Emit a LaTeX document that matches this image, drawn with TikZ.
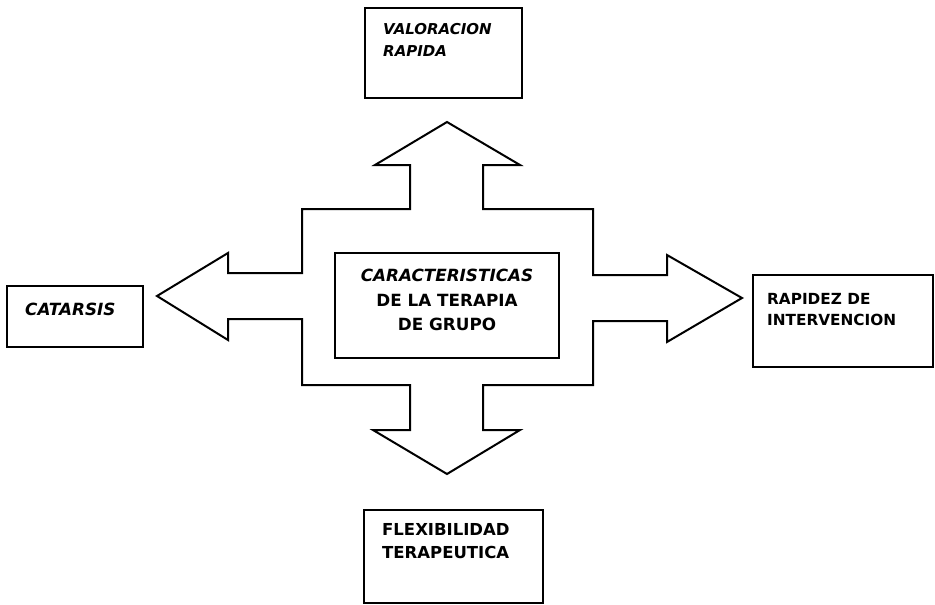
\documentclass[tikz,border=0pt]{standalone}
\usepackage{fontspec}
\setmainfont{DejaVu Sans}
\usepackage{tikz}
\usetikzlibrary{positioning}

\begin{document}
\begin{tikzpicture}[
        x=1pt, y=-1pt,
        caja/.style={draw=black, line width=2.8pt, inner sep=0pt},
        cruz/.style={draw=black, line width=2pt, line join=miter},
        txt/.style={align=left, inner sep=0pt, font=\bfseries\fontsize{16}{22}\selectfont},
        txtc/.style={align=center, inner sep=0pt, font=\bfseries\fontsize{16.8}{24.5}\selectfont}
    ]
        \useasboundingbox (0,0) rectangle (935,605);
        \draw[cruz] (302,209) -- (410,209) -- (410,165) -- (375,165) -- (447,122) -- (520,165) -- (483,165) -- (483,209)
            -- (593,209) -- (593,275) -- (667,275) -- (667,255) -- (742,298) -- (667,342) -- (667,321) -- (593,321)
            -- (593,385) -- (483,385) -- (483,430) -- (520,430) -- (447,474) -- (373,430) -- (410,430) -- (410,385)
            -- (302,385) -- (302,319) -- (228,319) -- (228,340) -- (157,296) -- (228,253) -- (228,273) -- (302,273) -- cycle;
        \node[caja, minimum width=224pt, minimum height=105pt] (centro) at (447,305.5) {};
        \node[caja, minimum width=157pt, minimum height=90pt] (valoracion) at (443.5,53) {};
        \node[caja, minimum width=136pt, minimum height=61pt] (catarsis) at (75,316.5) {};
        \node[caja, minimum width=180pt, minimum height=92pt] (rapidez) at (843,321) {};
        \node[caja, minimum width=179pt, minimum height=93pt] (flexibilidad) at (453.5,556.5) {};
        \node[txtc] (tcentro) at (447,300) {\itshape CARACTERISTICAS\\DE LA TERAPIA\\DE GRUPO};
        \node[txt, anchor=west, font=\bfseries\fontsize{15}{22}\selectfont] (tvaloracion) at (383,40) {\itshape VALORACION\\\itshape RAPIDA};
        \node[txt, anchor=west, font=\bfseries\fontsize{16.8}{22}\selectfont] (tcatarsis) at (25,309) {\itshape CATARSIS};
        \node[txt, anchor=west, font=\bfseries\fontsize{15.3}{21}\selectfont] (trapidez) at (767,310) {RAPIDEZ DE\\INTERVENCION};
        \node[txt, anchor=west, font=\bfseries\fontsize{16.5}{23}\selectfont] (tflexibilidad) at (382,541) {FLEXIBILIDAD\\TERAPEUTICA};
    \end{tikzpicture}
\end{document}
